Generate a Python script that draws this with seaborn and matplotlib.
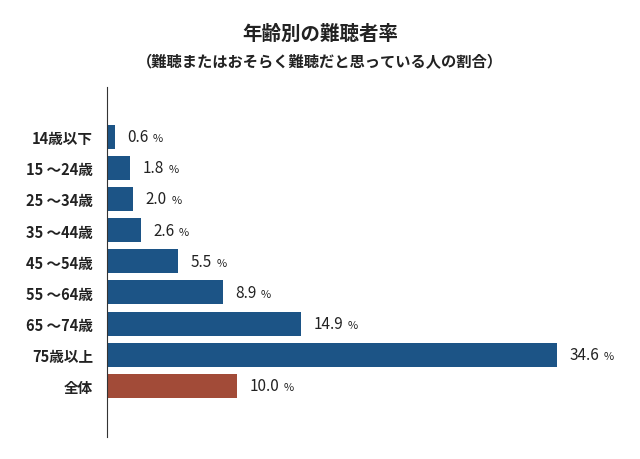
import pandas as pd
import seaborn as sns
import matplotlib.pyplot as plt

plt.rcParams['font.family'] = 'Noto Sans CJK JP'

categories = ['14歳以下', '15 ～24歳', '25 ～34歳', '35 ～44歳', '45 ～54歳',
              '55 ～64歳', '65 ～74歳', '75歳以上', '全体']
values = [0.6, 1.8, 2.0, 2.6, 5.5, 8.9, 14.9, 34.6, 10.0]
groups = ['age'] * 8 + ['all']

df = pd.DataFrame({'category': categories, 'value': values, 'group': groups})

fig = plt.figure(figsize=(6.4, 4.6), dpi=100)
ax = fig.add_axes([0.167, 0.048, 0.813, 0.761])

sns.barplot(data=df, x='value', y='category', hue='group', orient='h',
            palette={'age': '#0b5597', 'all': '#b43f26'}, dodge=False,
            width=0.77, legend=False, ax=ax)

for i, v in enumerate(values):
    ax.annotate(f'{v:.1f}', (v, i), xytext=(9, 0), textcoords='offset points',
                va='center', ha='left', fontsize=11, color='#222222')
    ax.annotate('%', (v, i), xytext=(9 + 6.2 * len(f'{v:.1f}'), -1),
                textcoords='offset points', va='center', ha='left',
                fontsize=8, color='#222222')

ax.set_xlim(0, 40)
ax.set_ylim(9.64, -1.6)
ax.set_xlabel('')
ax.set_ylabel('')
ax.set_xticks([])
ax.tick_params(axis='y', length=0, pad=10)
for lab in ax.get_yticklabels():
    lab.set_fontweight('bold')
    lab.set_fontsize(10.5)
    lab.set_color('#222222')
for s in ['top', 'right', 'bottom']:
    ax.spines[s].set_visible(False)
ax.spines['left'].set_color('#333333')

fig.text(0.5, 0.925, '年齢別の難聴者率', ha='center', va='center',
         fontsize=14, fontweight='bold', color='#222222')
fig.text(0.5, 0.865, '（難聴またはおそらく難聴だと思っている人の割合）', ha='center',
         va='center', fontsize=11, fontweight='bold', color='#222222')

fig.savefig('out.png', dpi=100)
